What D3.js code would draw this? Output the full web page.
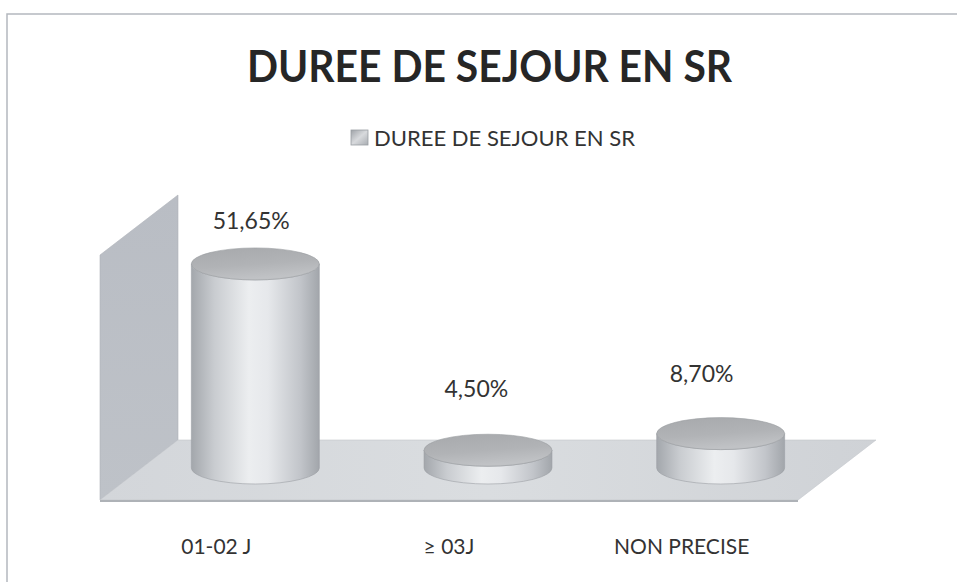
<!DOCTYPE html>
<html>
<head>
<meta charset="utf-8">
<script src="https://cdn.jsdelivr.net/npm/d3@7"></script>
<style>
  html, body { margin: 0; padding: 0; background: #ffffff; }
  svg { display: block; }
  text { font-family: Lato, "Open Sans", sans-serif; }
</style>
</head>
<body>
<svg id="chart" width="957" height="582"></svg>
<script>
// Chart content
const chartTitle = "DUREE DE SEJOUR EN SR";
const seriesName = "DUREE DE SEJOUR EN SR";
const categories = ["01-02 J", "\u2265 03J", "NON PRECISE"];
const values = [51.65, 4.50, 8.70];
const axisMax = 61.5;

const fmt = v => v.toFixed(2).replace(".", ",") + "%";

const svg = d3.select("#chart");
const defs = svg.append("defs");

// 3D box geometry: front edge of the floor and the depth offset
const frontLeft = 100, frontRight = 798, frontY = 500;
const depthDx = 78, depthDy = -60;
const midDx = depthDx / 2, midDy = depthDy / 2;

const x = d3.scaleBand().domain(categories).range([frontLeft, frontRight]).padding(0);
const baseY = frontY + midDy - 2;           // cylinder base centre (mid depth)
const y = d3.scaleLinear().domain([0, axisMax]).range([baseY, baseY - 243]);

// labels float in front of the columns, so they sit on a slightly
// shallower projection than the column tops
const persp = 0.968;
const labelY = d3.scaleLinear().domain([0, axisMax]).range([baseY - 55, baseY - 55 - 243 * 0.9]);

const rx = x.bandwidth() * 0.275;
const ry = 16;

// Gradients
const bodyGrad = defs.append("linearGradient").attr("id", "body").attr("x1", 0).attr("x2", 1).attr("y1", 0).attr("y2", 0);
[[0, "#a3a7ac"], [0.18, "#c9ccd0"], [0.45, "#eceef0"], [0.6, "#e6e8eb"], [0.85, "#c2c5ca"], [1, "#a2a6ab"]]
  .forEach(([o, c]) => bodyGrad.append("stop").attr("offset", o).attr("stop-color", c));

const topGrad = defs.append("linearGradient").attr("id", "topg").attr("x1", 0).attr("x2", 0.3).attr("y1", 0).attr("y2", 1);
[[0, "#a7a9ac"], [0.6, "#b1b3b6"], [1, "#c0c2c5"]]
  .forEach(([o, c]) => topGrad.append("stop").attr("offset", o).attr("stop-color", c));

const floorGrad = defs.append("linearGradient").attr("id", "floor").attr("x1", 0).attr("x2", 1).attr("y1", 0).attr("y2", 0);
[[0, "#d3d6da"], [0.5, "#dadde0"], [1, "#cfd2d6"]]
  .forEach(([o, c]) => floorGrad.append("stop").attr("offset", o).attr("stop-color", c));

const wallGrad = defs.append("linearGradient").attr("id", "wall").attr("x1", 0).attr("x2", 0).attr("y1", 0).attr("y2", 1);
[[0, "#b9bdc4"], [1, "#bec2c8"]]
  .forEach(([o, c]) => wallGrad.append("stop").attr("offset", o).attr("stop-color", c));

const legGrad = defs.append("linearGradient").attr("id", "leg").attr("x1", 0).attr("x2", 1).attr("y1", 0).attr("y2", 1);
[[0, "#9ea2a7"], [0.5, "#d8dadd"], [1, "#a9adb2"]]
  .forEach(([o, c]) => legGrad.append("stop").attr("offset", o).attr("stop-color", c));

// Chart frame
svg.append("path")
  .attr("d", `M7,582 L7,14 L957,14`)
  .attr("fill", "none").attr("stroke", "#b4b8be").attr("stroke-width", 1.5);

// Title
svg.append("text")
  .attr("x", 489.5).attr("y", 82)
  .attr("text-anchor", "middle")
  .attr("font-size", 44).attr("font-weight", 700)
  .attr("fill", "#262626")
  .attr("textLength", 485).attr("lengthAdjust", "spacingAndGlyphs")
  .text(chartTitle);

// Legend
svg.append("rect").attr("x", 351).attr("y", 130).attr("width", 17).attr("height", 15)
  .attr("fill", "url(#leg)").attr("stroke", "#9a9ea3").attr("stroke-width", 0.8);
svg.append("text")
  .attr("x", 374).attr("y", 145.5)
  .attr("font-size", 21).attr("fill", "#333333")
  .attr("textLength", 261).attr("lengthAdjust", "spacingAndGlyphs")
  .text(seriesName);

// Side wall on the left
const wallTopFront = y(axisMax) - midDy;
const wallTopBack = y(axisMax) + midDy;
svg.append("path")
  .attr("d", `M${frontLeft},${wallTopFront} L${frontLeft + depthDx},${wallTopBack}
              L${frontLeft + depthDx},${frontY + depthDy} L${frontLeft},${frontY} Z`)
  .attr("fill", "url(#wall)").attr("stroke", "#aeb2b8").attr("stroke-width", 0.6);

// Floor
svg.append("path")
  .attr("d", `M${frontLeft},${frontY} L${frontLeft + depthDx},${frontY + depthDy}
              L${frontRight + depthDx},${frontY + depthDy} L${frontRight},${frontY} Z`)
  .attr("fill", "url(#floor)").attr("stroke", "#c2c6cb").attr("stroke-width", 0.6);
svg.append("path")
  .attr("d", `M${frontLeft},${frontY} L${frontRight},${frontY} L${frontRight},${frontY + 2} L${frontLeft},${frontY + 2} Z`)
  .attr("fill", "#aeb2b7");

// Cylinders
const rows = categories.map((c, i) => ({ cat: c, v: values[i] }));
const cyl = svg.append("g").selectAll("g").data(rows).join("g");

const cx = d => x(d.cat) + x.bandwidth() / 2 + midDx;

cyl.append("path")
  .attr("d", d => {
    const c = cx(d), t = y(d.v), b = y(0);
    return `M${c - rx},${t} L${c - rx},${b} A${rx},${ry} 0 0 0 ${c + rx},${b}
            L${c + rx},${t} A${rx},${ry} 0 0 1 ${c - rx},${t} Z`;
  })
  .attr("fill", "url(#body)").attr("stroke", "#9ca0a5").attr("stroke-width", 0.6);

cyl.append("ellipse")
  .attr("cx", cx).attr("cy", d => y(d.v))
  .attr("rx", rx).attr("ry", ry)
  .attr("fill", "url(#topg)").attr("stroke", "#9a9da1").attr("stroke-width", 0.6);

// Value labels
cyl.append("text")
  .attr("x", d => cx(d) * persp + 4)
  .attr("y", d => labelY(d.v))
  .attr("text-anchor", "middle")
  .attr("font-size", 23).attr("fill", "#333333")
  .text(d => fmt(d.v));

// Category labels
svg.append("g").selectAll("text").data(categories).join("text")
  .attr("x", d => x(d) + x.bandwidth() / 2)
  .attr("y", 554)
  .attr("text-anchor", "middle")
  .attr("font-size", 21).attr("fill", "#333333")
  .text(d => d);
</script>
</body>
</html>
